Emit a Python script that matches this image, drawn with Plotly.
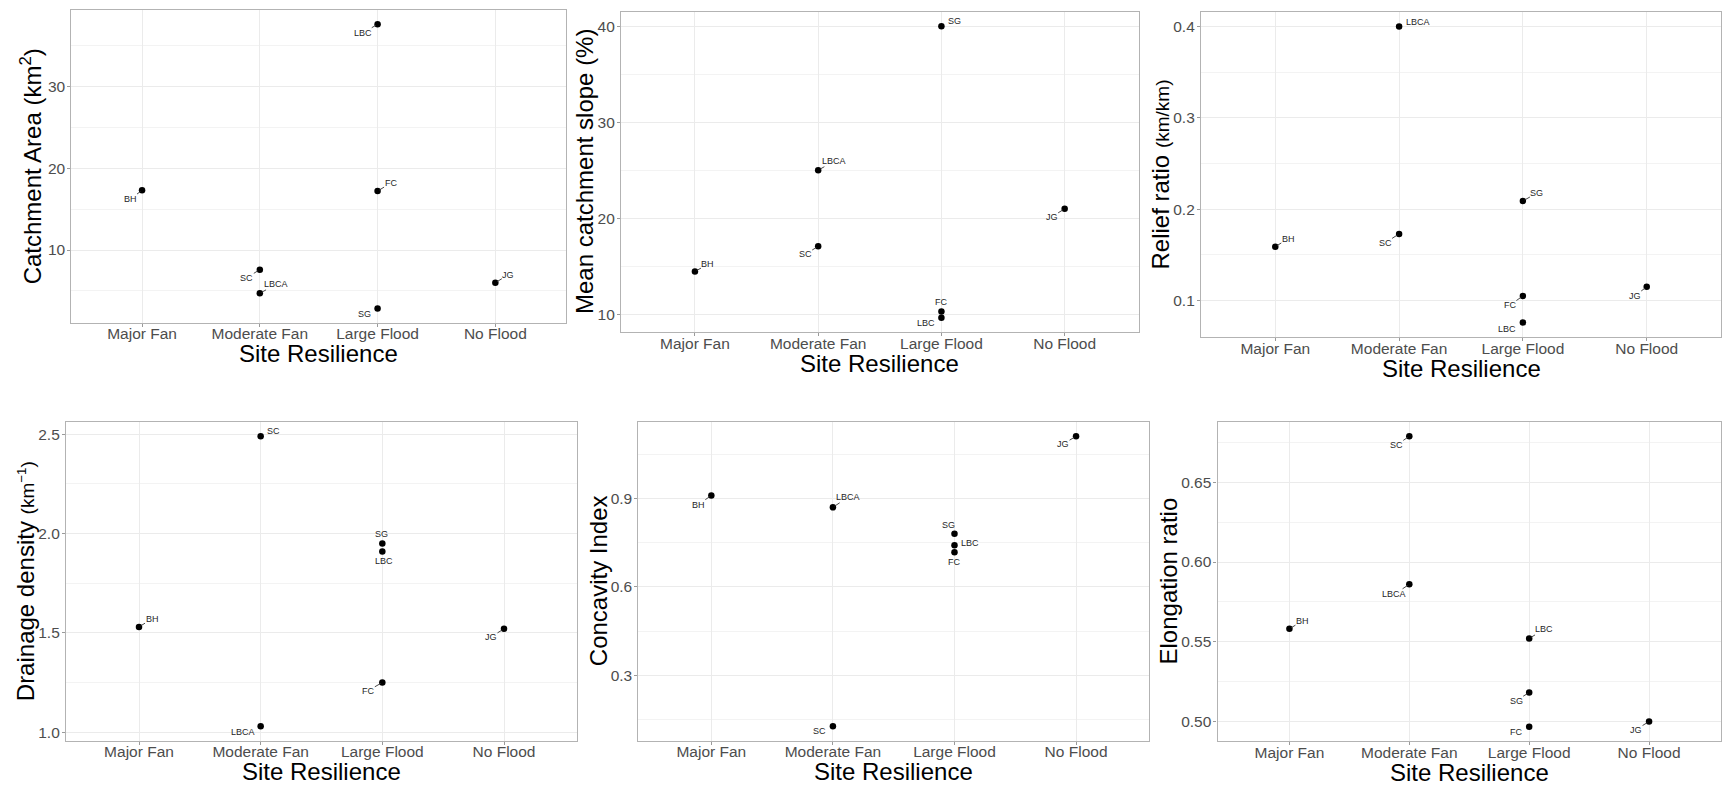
import plotly.graph_objects as go

# ---- data -------------------------------------------------------------
categories = ["Major Fan", "Moderate Fan", "Large Flood", "No Flood"]
sites = ["BH", "SC", "LBCA", "LBC", "FC", "SG", "JG"]
resilience = ["Major Fan", "Moderate Fan", "Moderate Fan",
              "Large Flood", "Large Flood", "Large Flood", "No Flood"]

catchment_area = [17.3, 7.6, 4.7, 37.6, 17.2, 2.85, 6.0]          # km^2
mean_slope = [14.45, 17.06, 25.0, 9.62, 10.28, 40.0, 20.97]       # %
relief_ratio = [0.159, 0.173, 0.400, 0.076, 0.105, 0.209, 0.115]  # km/km
drainage_density = [1.53, 2.49, 1.03, 1.91, 1.25, 1.95, 1.52]     # km^-1
concavity_index = [0.910, 0.128, 0.870, 0.741, 0.718, 0.780, 1.111]
elongation_ratio = [0.558, 0.679, 0.586, 0.552, 0.4965, 0.518, 0.4998]

# ---- layout / style ---------------------------------------------------
W, H = 1722, 785
FONT = "Liberation Sans, Arial, Helvetica, sans-serif"
TICK_COLOR = "#4d4d4d"
GRID = "#ebebeb"
GRID_MINOR = "#f3f3f3"
FRAME = "#b3b3b3"

# label placement (text offset in px from its point; draw leader segment?)
label_offsets = [
    {"BH": (-12, 9, True), "SC": (-13, 8, True), "LBCA": (16, -9, True),
     "LBC": (-15, 9, True), "FC": (13, -8, True), "SG": (-13, 6, False),
     "JG": (13, -8, True)},
    {"BH": (13, -7, True), "SC": (-13, 8, True), "LBCA": (16, -9, True),
     "SG": (13, -5, False), "FC": (0, -9, False), "LBC": (-15, 5, False),
     "JG": (-13, 8, True)},
    {"LBCA": (19, -5, False), "BH": (13, -8, True), "SC": (-14, 9, True),
     "SG": (14, -8, True), "FC": (-13, 9, True), "LBC": (-16, 6, False),
     "JG": (-12, 9, True)},
    {"SC": (13, -5, False), "BH": (13, -8, True), "LBCA": (-18, 6, False),
     "SG": (-1, -9, False), "LBC": (2, 10, False), "FC": (-14, 8, True),
     "JG": (-13, 8, True)},
    {"BH": (-13, 9, True), "LBCA": (15, -10, True), "SC": (-13, 5, False),
     "SG": (-6, -9, False), "LBC": (16, -2, False), "FC": (0, 10, False),
     "JG": (-13, 8, True)},
    {"SC": (-13, 9, True), "LBCA": (-15, 10, True), "BH": (13, -8, True),
     "LBC": (15, -9, True), "SG": (-13, 8, True), "FC": (-13, 5, False),
     "JG": (-13, 8, True)},
]

panels = [
    dict(values=catchment_area, title="Catchment Area (km<sup>2</sup>)",
         box=(71.4, 566, 10, 322.7), dtick=10, fmt="d", ytx=31, xty=353),
    dict(values=mean_slope, title="Mean catchment slope (%)",
         box=(621, 1138.6, 11.7, 332.3), dtick=10, fmt="d", ytx=585, xty=363),
    dict(values=relief_ratio,
         title="Relief ratio <span style='font-size:19px'>(km/km)</span>",
         box=(1201, 1721, 11.7, 337.3), dtick=0.1, fmt=".1f", ytx=1160, xty=368),
    dict(values=drainage_density,
         title="Drainage density <span style='font-size:19px'>(km<sup>\u22121</sup>)</span>",
         box=(66, 577, 421.7, 740.7), dtick=0.5, fmt=".1f", ytx=25, xty=771),
    dict(values=concavity_index, title="Concavity Index",
         box=(638.4, 1149, 421.7, 740.7), dtick=0.3, fmt=".1f", ytx=598, xty=771),
    dict(values=elongation_ratio, title="Elongation ratio",
         box=(1217.5, 1721, 421.7, 741.3), dtick=0.05, fmt=".2f", ytx=1168, xty=772),
]

fig = go.Figure()
annotations = []
layout_axes = {}

for k, p in enumerate(panels, start=1):
    xa = "x" if k == 1 else f"x{k}"
    ya = "y" if k == 1 else f"y{k}"
    left, right, top, bottom = p["box"]
    vals = p["values"]

    fig.add_trace(go.Scatter(
        x=resilience, y=vals, mode="markers", xaxis=xa, yaxis=ya,
        marker=dict(color="black", size=6.5), text=sites,
        hovertemplate="%{text}: %{y}<extra></extra>", showlegend=False))

    lo, hi = min(vals), max(vals)
    pad = 0.05 * (hi - lo)
    ax_common = dict(showline=True, linecolor=FRAME, linewidth=1.2, mirror=True,
                     ticks="outside", ticklen=3, tickcolor="#9a9a9a",
                     tickfont=dict(family=FONT, size=15.5, color=TICK_COLOR),
                     showgrid=True, gridcolor=GRID, gridwidth=1, zeroline=False)
    layout_axes["xaxis" if k == 1 else f"xaxis{k}"] = dict(
        ax_common, domain=[left / W, right / W], anchor=ya,
        type="category", categoryorder="array", categoryarray=categories,
        range=[-0.6, 3.6], ticklabelstandoff=-6)
    layout_axes["yaxis" if k == 1 else f"yaxis{k}"] = dict(
        ax_common, domain=[1 - bottom / H, 1 - top / H], anchor=xa,
        range=[lo - pad, hi + pad], dtick=p["dtick"], tick0=0,
        tickformat=p["fmt"], ticklabelstandoff=-1,
        minor=dict(dtick=p["dtick"] / 2, tick0=0, showgrid=True,
                   gridcolor=GRID_MINOR, ticks=""))

    # axis titles
    annotations.append(dict(
        text="Site Resilience", xref="paper", yref="paper",
        x=(left + right) / 2 / W, y=1 - p["xty"] / H, showarrow=False,
        xanchor="center", yanchor="middle",
        font=dict(family=FONT, size=24, color="black")))
    annotations.append(dict(
        text=p["title"], xref="paper", yref="paper", textangle=-90,
        x=p["ytx"] / W, y=1 - (top + bottom) / 2 / H, showarrow=False,
        xanchor="center", yanchor="middle",
        font=dict(family=FONT, size=24, color="black")))

    # site labels
    offs = label_offsets[k - 1]
    for s, cat, v in zip(sites, resilience, vals):
        dx, dy, seg = offs[s]
        a = dict(text=s, x=cat, y=v, xref=xa, yref=ya,
                 font=dict(family=FONT, size=9, color="#262626"))
        if seg:
            a.update(showarrow=True, ax=dx, ay=dy, arrowhead=0,
                     arrowwidth=0.9, arrowcolor="#333333", standoff=2,
                     borderpad=0)
        else:
            a.update(showarrow=False, xshift=dx, yshift=-dy)
        annotations.append(a)

fig.update_layout(
    width=W, height=H, margin=dict(l=0, r=0, t=0, b=0),
    paper_bgcolor="white", plot_bgcolor="white",
    font=dict(family=FONT), annotations=annotations, **layout_axes)

fig.write_html("out.html")
